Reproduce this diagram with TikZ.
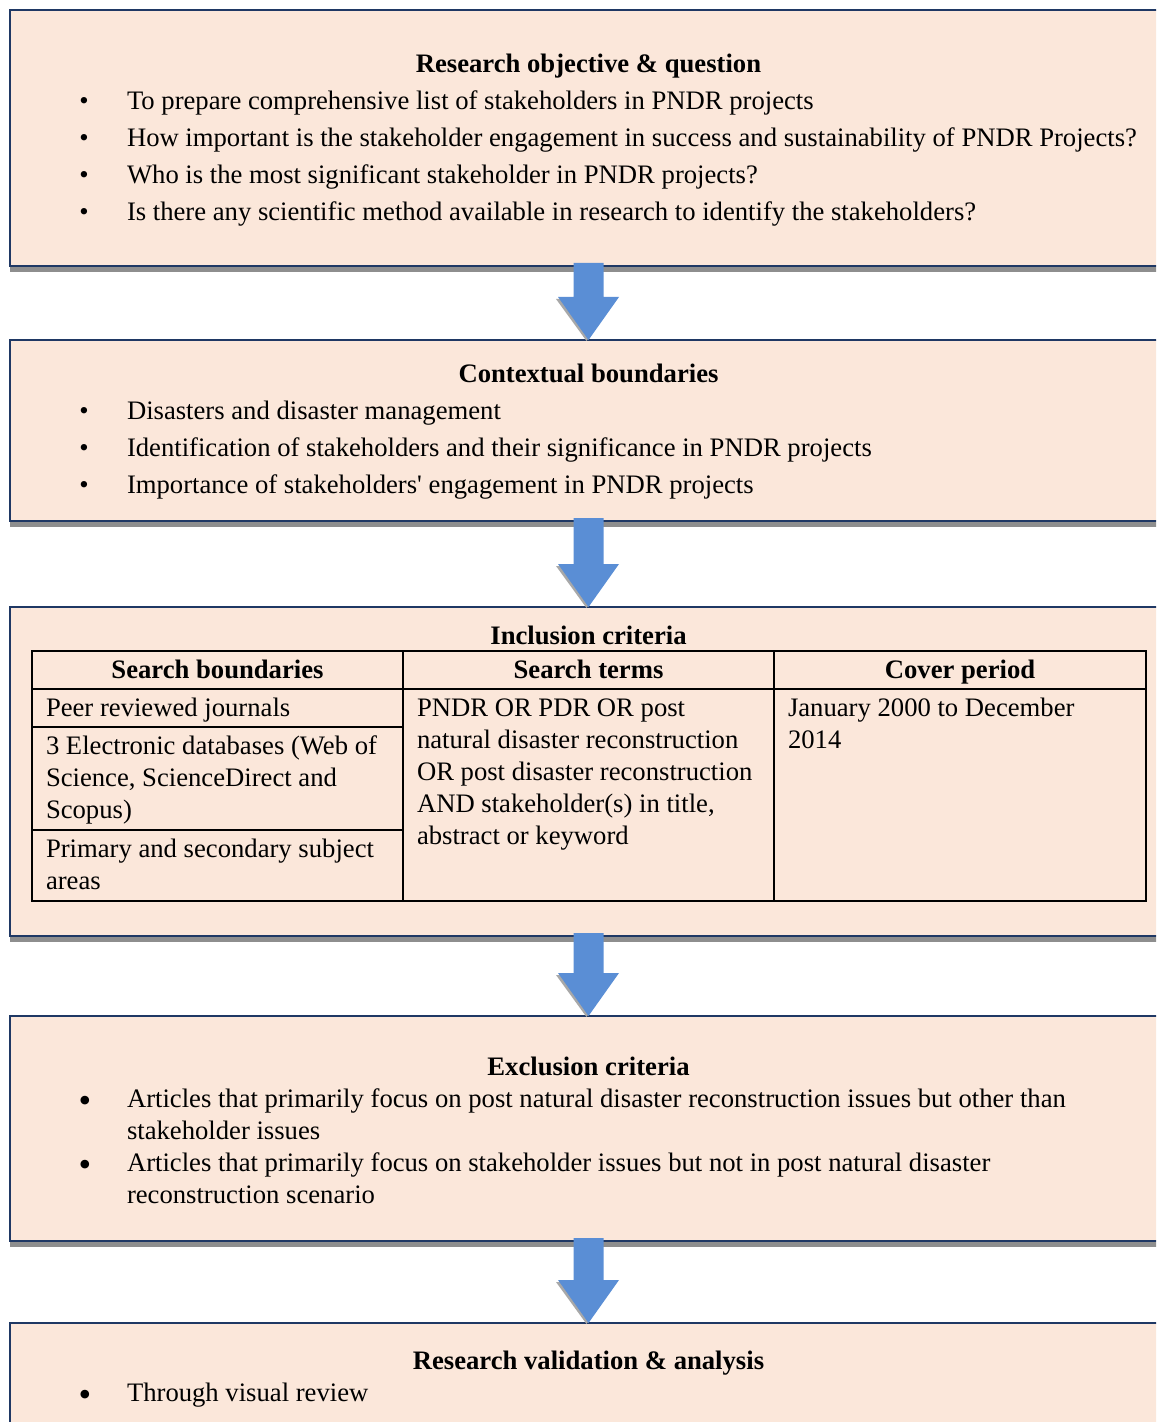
\documentclass[tikz,border=0pt]{standalone}
\usepackage{fontspec}
\setmainfont{Liberation Serif}[Ligatures=TeXOff]
\usetikzlibrary{calc}
\definecolor{boxfill}{HTML}{FBE7DA}
\definecolor{boxline}{HTML}{1F3864}
\definecolor{arrowcol}{HTML}{5A8ED5}
\definecolor{shadowcol}{HTML}{8E8E8E}
\definecolor{arrowshade}{HTML}{A8A8A8}
\tikzset{
  box/.style={draw=boxline, line width=1pt, fill=boxfill, anchor=north west,
    inner sep=0pt, outer sep=0pt, minimum width=580pt},
  txt/.style={anchor=base west, inner sep=0pt, outer sep=0pt, yshift=-0.75pt,
    font=\fontsize{13.33}{16}\selectfont},
  ttl/.style={anchor=base, inner sep=0pt, outer sep=0pt, yshift=-0.75pt,
    font=\fontsize{13.33}{16}\selectfont\bfseries},
  smallbul/.style={anchor=base, inner sep=0pt, outer sep=0pt, yshift=-0.75pt,
    font=\fontsize{13.33}{16}\selectfont},
  bigbul/.style={anchor=base, inner sep=0pt, outer sep=0pt, yshift=-3pt,
    font=\fontsize{18}{16}\selectfont},
  gridline/.style={line width=1pt, black},
  boxshadow/.style={fill=shadowcol},
  arrowbody/.style={fill=arrowcol},
  arrowshadow/.style={fill=arrowshade},
}
\newcommand\boxshade[1]{%
  \fill[boxshadow] ([yshift=-0.5pt]#1.south west) rectangle ([yshift=-3pt]#1.south east);}
\newcommand\blockarrow[2]{%
  \fill[arrowshadow] ($(#2)+(-32.5,-41)$) -- ($(#2)+(-2,1)$) -- ($(#2)+(28.5,-41)$) -- cycle;
  \fill[arrowbody] ($(#1)+(-15,-3)$) -- ($(#2)+(-15,-43)$) -- ($(#2)+(-30.5,-43)$)
    -- (#2) -- ($(#2)+(30.5,-43)$) -- ($(#2)+(15,-43)$) -- ($(#1)+(15,-3)$) -- cycle;}
\begin{document}
\begin{tikzpicture}[x=0.5pt,y=-0.5pt]
\useasboundingbox (0,0) rectangle (1156,1422);
\clip (0,0) rectangle (1156,1422);
\fill[white] (0,0) rectangle (1156,1422);

% boxes
\node[box, minimum height=128pt] (b1) at (10,10) {};
\node[box, minimum height=90.5pt] (b2) at (10,340) {};
\node[box, minimum height=164.5pt] (b3) at (10,607) {};
\node[box, minimum height=112.5pt] (b4) at (10,1016) {};
\node[box, minimum height=70pt] (b5) at (10,1323) {};
\boxshade{b1}
\boxshade{b2}
\boxshade{b3}
\boxshade{b4}

% arrows
\coordinate (a1s) at ($(b1.south west)+(578.5,0)$);
\coordinate (a1e) at ($(b2.north west)+(578.5,0)$);
\coordinate (a2s) at ($(b2.south west)+(578.5,0)$);
\coordinate (a2e) at ($(b3.north west)+(578.5,0)$);
\coordinate (a3s) at ($(b3.south west)+(578.5,0)$);
\coordinate (a3e) at ($(b4.north west)+(578.5,0)$);
\coordinate (a4s) at ($(b4.south west)+(578.5,0)$);
\coordinate (a4e) at ($(b5.north west)+(578.5,0)$);
\blockarrow{a1s}{a1e}
\blockarrow{a2s}{a2e}
\blockarrow{a3s}{a3e}
\blockarrow{a4s}{a4e}

% box 1
\node[ttl] (t1) at (588.5,71) {Research objective \& question};
\node[smallbul] (p11) at (84,108) {•};
\node[txt] (l11) at (127,108) {To prepare comprehensive list of stakeholders in PNDR projects};
\node[smallbul] (p12) at (84,145) {•};
\node[txt] (l12) at (127,145) {How important is the stakeholder engagement in success and sustainability of PNDR Projects?};
\node[smallbul] (p13) at (84,182) {•};
\node[txt] (l13) at (127,182) {Who is the most significant stakeholder in PNDR projects?};
\node[smallbul] (p14) at (84,219) {•};
\node[txt] (l14) at (127,219) {Is there any scientific method available in research to identify the stakeholders?};

% box 2
\node[ttl] (t2) at (588.5,381) {Contextual boundaries};
\node[smallbul] (p21) at (84,418) {•};
\node[txt] (l21) at (127,418) {Disasters and disaster management};
\node[smallbul] (p22) at (84,455) {•};
\node[txt] (l22) at (127,455) {Identification of stakeholders and their significance in PNDR projects};
\node[smallbul] (p23) at (84,492) {•};
\node[txt] (l23) at (127,492) {Importance of stakeholders' engagement in PNDR projects};

% box 3
\node[ttl] (t3) at (588.5,643) {Inclusion criteria};
\draw[gridline] (32,651) rectangle (1146,901);
\draw[gridline] (32,689) -- (1146,689);
\draw[gridline] (403,651) -- (403,901);
\draw[gridline] (774,651) -- (774,901);
\draw[gridline] (32,727) -- (403,727);
\draw[gridline] (32,830) -- (403,830);
\node[ttl] (h1) at (217.5,677) {Search boundaries};
\node[ttl] (h2) at (588.5,677) {Search terms};
\node[ttl] (h3) at (960,677) {Cover period};
\node[txt] (c11) at (46,715) {Peer reviewed journals};
\node[txt] (c12) at (46,753) {3 Electronic databases (Web of};
\node[txt] (c13) at (46,785) {Science, ScienceDirect and};
\node[txt] (c14) at (46,817) {Scopus)};
\node[txt] (c15) at (46,856) {Primary and secondary subject};
\node[txt] (c16) at (46,888) {areas};
\node[txt] (c21) at (417,715) {PNDR OR PDR OR post};
\node[txt] (c22) at (417,747) {natural disaster reconstruction};
\node[txt] (c23) at (417,779) {OR post disaster reconstruction};
\node[txt] (c24) at (417,811) {AND stakeholder(s) in title,};
\node[txt] (c25) at (417,843) {abstract or keyword};
\node[txt] (c31) at (788,715) {January 2000 to December};
\node[txt] (c32) at (788,747) {2014};

% box 4
\node[ttl] (t4) at (588.5,1074) {Exclusion criteria};
\node[bigbul] (p41) at (85,1106) {•};
\node[txt] (l41) at (127,1106) {Articles that primarily focus on post natural disaster reconstruction issues but other than};
\node[txt] (l42) at (127,1138) {stakeholder issues};
\node[bigbul] (p42) at (85,1170) {•};
\node[txt] (l43) at (127,1170) {Articles that primarily focus on stakeholder issues but not in post natural disaster};
\node[txt] (l44) at (127,1202) {reconstruction scenario};

% box 5
\node[ttl] (t5) at (588.5,1368) {Research validation \& analysis};
\node[bigbul] (p51) at (85,1400) {•};
\node[txt] (l51) at (127,1400) {Through visual review};
\end{tikzpicture}
\end{document}
